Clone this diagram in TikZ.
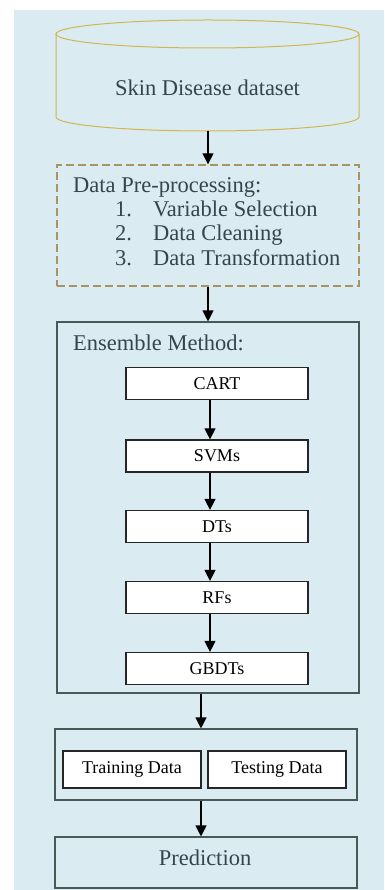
\documentclass[tikz,border=0pt]{standalone}
\usepackage{fontspec}
\setmainfont{Liberation Serif}
\usetikzlibrary{arrows.meta}
\definecolor{bgblue}{HTML}{DAECF2}
\definecolor{cylgold}{HTML}{D4B450}
\definecolor{dashgold}{HTML}{A89460}
\definecolor{boxgray}{HTML}{4A5858}
\definecolor{txtgray}{HTML}{38444C}
\tikzset{
  arr/.style={draw=black, line width=1.1pt, -{Triangle[width=11pt,length=11pt]}},
  inbox/.style={draw=black!85, fill=white, line width=1.2pt, minimum width=182pt, minimum height=32pt, inner sep=0pt, font=\fontsize{18}{20}\selectfont, text=black},
  halfbox/.style={draw=black!85, fill=white, line width=1.2pt, minimum width=138pt, minimum height=37pt, inner sep=0pt, font=\fontsize{18}{20}\selectfont, text=black},
  outbox/.style={draw=boxgray, line width=1.1pt, inner sep=0pt},
  bigtxt/.style={font=\fontsize{22.5}{26}\selectfont, text=txtgray, inner sep=0pt}
}
\begin{document}
\begin{tikzpicture}[x=1pt,y=-1pt]
\useasboundingbox (0,0) rectangle (384,890);
\fill[bgblue] (14,10) rectangle (384,890);
% cylinder
\draw[cylgold, line width=1pt, fill=bgblue] (56,34) -- (56,117) arc[start angle=180, end angle=360, x radius=151.5, y radius=-14] -- (359,34);
\draw[cylgold, line width=1pt] (207.5,34) ellipse[x radius=151.5, y radius=14];
\node[minimum width=303pt, minimum height=97pt, inner sep=0pt] (db) at (207.5,82.5) {};
\node[bigtxt] (dbtxt) at (207.5,88) {Skin Disease dataset};
\coordinate (dbbot) at (208,131);
% pre-processing
\node[draw=dashgold, line width=1.3pt, dash pattern=on 8pt off 4pt, minimum width=302pt, minimum height=121pt, inner sep=0pt] (pre) at (208,225.5) {};
\node[bigtxt, anchor=base west] (pre0) at (73,192.5) {Data Pre-processing:};
\node[bigtxt, anchor=base west] (n1) at (115,216.5) {1.};
\node[bigtxt, anchor=base west] (t1) at (153,216.5) {Variable Selection};
\node[bigtxt, anchor=base west] (n2) at (115,241) {2.};
\node[bigtxt, anchor=base west] (t2) at (153,241) {Data Cleaning};
\node[bigtxt, anchor=base west] (n3) at (115,265.5) {3.};
\node[bigtxt, anchor=base west] (t3) at (153,265.5) {Data Transformation};
% ensemble
\node[outbox, minimum width=302pt, minimum height=371pt] (ens) at (208,507.5) {};
\node[bigtxt, anchor=base west] (enstxt) at (73,350.5) {Ensemble Method:};
\node[inbox] (cart) at (217,383.5) {CART};
\node[inbox] (svm) at (217,456) {SVMs};
\node[inbox] (dt) at (217,526.5) {DTs};
\node[inbox] (rf) at (217,597.5) {RFs};
\node[inbox] (gb) at (217,668.5) {GBDTs};
% split
\node[outbox, minimum width=302pt, minimum height=71pt] (split) at (206,764.5) {};
\node[halfbox] (train) at (132,769.5) {Training Data};
\node[halfbox] (test) at (277,769.5) {Testing Data};
% prediction
\node[outbox, minimum width=302pt, minimum height=51pt] (pred) at (206,862.5) {};
\node[bigtxt] (predtxt) at (205,857.5) {Prediction};
% arrows
\draw[arr] (dbbot) -- (pre.north -| dbbot);
\draw[arr] (pre.south) -- (ens.north);
\draw[arr] (cart.south -| 210,0) -- (svm.north -| 210,0);
\draw[arr] (svm.south -| 210,0) -- (dt.north -| 210,0);
\draw[arr] (dt.south -| 210,0) -- (rf.north -| 210,0);
\draw[arr] (rf.south -| 210,0) -- (gb.north -| 210,0);
\draw[arr] (ens.south -| 201,0) -- (split.north -| 201,0);
\draw[arr] (split.south -| 201,0) -- (pred.north -| 201,0);
\end{tikzpicture}
\end{document}
